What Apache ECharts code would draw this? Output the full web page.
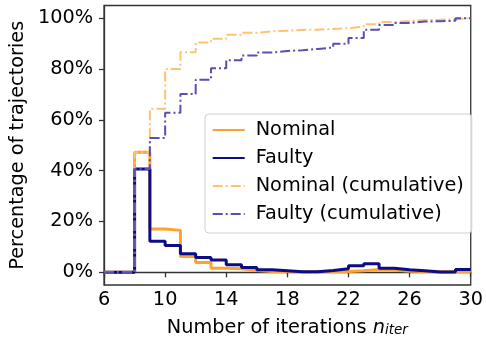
<!DOCTYPE html>
<html>
<head>
<meta charset="utf-8">
<script src="https://cdn.jsdelivr.net/npm/echarts@6/dist/echarts.min.js"></script>
<style>
html,body{margin:0;padding:0;background:#fff;}
#c{width:486px;height:345px;}
</style>
</head>
<body>
<div id="c"></div>
<script>
// Iteration counts (bins start at these values)
var iterations = [6,7,8,9,10,11,12,13,14,15,16,17,18,19,20,21,22,23,24,25,26,27,28,29];
var xEnd = 30;
// Percentage of trajectories per iteration count
var nominal = [0,0,47.2,17.0,16.5,6.2,3.9,1.6,1.4,0.7,0.3,0.3,0.1,0.2,0.3,0.3,0.6,1.1,0.9,0.4,0.3,0.2,0.2,0.3];
var faulty  = [0,0,40.7,12.2,10.5,7.3,5.8,4.8,3.0,1.9,1.0,0.6,0.2,0.2,0.7,1.4,2.6,3.4,1.6,1.0,0.6,0.1,0.1,1.1];
var nominalCum = [0,0,47.2,64.4,80.0,86.6,90.4,91.9,93.5,94.3,94.8,95.1,95.4,95.5,95.8,96.1,96.7,97.6,98.5,98.9,99.2,99.4,99.6,100];
var faultyCum  = [0,0,40.7,52.9,62.8,70.2,75.8,80.3,83.5,85.3,86.5,87.1,87.4,87.9,88.5,89.9,92.2,95.5,97.3,98.1,98.7,98.8,99.0,100];
var xTicks = [6,10,14,18,22,26,30];
var yTicks = [0,20,40,60,80,100];
var seriesNames = ['Nominal','Faulty','Nominal (cumulative)','Faulty (cumulative)'];

function toSteps(vals){
  var d = iterations.map(function(n,i){return [n, vals[i]];});
  d.push([xEnd, vals[vals.length-1]]);
  return d;
}

var FONT = 'DejaVu Sans';
var FS = 19.3;
var chart = echarts.init(document.getElementById('c'), null, {renderer:'canvas'});
chart.setOption({
  animation:false,
  backgroundColor:'#fff',
  grid:{left:103,right:12.5,top:5.5,bottom:60,show:true,borderColor:'#333',borderWidth:1.3,backgroundColor:'transparent'},
  xAxis:{
    type:'value',min:6,max:30,
    name:'{a|Number of iterations }{n|n}{s|iter}',
    nameLocation:'middle',nameGap:30,
    nameTextStyle:{
      rich:{
        a:{fontFamily:FONT,fontSize:FS,color:'#000',verticalAlign:'bottom',lineHeight:22},
        n:{fontFamily:FONT,fontSize:FS,color:'#000',fontStyle:'italic',verticalAlign:'bottom',lineHeight:22},
        s:{fontFamily:FONT,fontSize:13.5,color:'#000',fontStyle:'italic',verticalAlign:'bottom',lineHeight:12}
      }
    },
    axisLine:{show:true,lineStyle:{color:'#333',width:1.3}},
    axisTick:{show:true,inside:false,length:5,customValues:xTicks,lineStyle:{color:'#333',width:1.3}},
    axisLabel:{customValues:xTicks,fontFamily:FONT,fontSize:FS,color:'#000',margin:5},
    splitLine:{show:false}
  },
  yAxis:{
    type:'value',min:-5,max:105,
    name:'Percentage of trajectories',
    nameLocation:'middle',nameGap:67,
    nameTextStyle:{fontFamily:FONT,fontSize:FS,color:'#000'},
    axisLine:{show:true,lineStyle:{color:'#333',width:1.3}},
    axisTick:{show:true,inside:false,length:5,customValues:yTicks,lineStyle:{color:'#333',width:1.3}},
    axisLabel:{customValues:yTicks,fontFamily:FONT,fontSize:FS,color:'#000',margin:11,formatter:function(v){return v+'%';}},
    splitLine:{show:false}
  },
  legend:{
    orient:'vertical',left:205,top:114,
    padding:[6,8,9,6.7],
    itemWidth:32,itemHeight:20,itemGap:8,
    backgroundColor:'rgba(255,255,255,0.85)',
    borderColor:'#d0d0d0',borderWidth:1,borderRadius:4,
    itemStyle:{opacity:0},
    textStyle:{fontFamily:FONT,fontSize:FS,color:'#000',lineHeight:20,padding:[0,0,0,6]},
    data:seriesNames
  },
  series:[
    {name:seriesNames[0],type:'line',step:'end',showSymbol:false,symbol:'none',data:toSteps(nominal),
     lineStyle:{color:'#FFA12E',width:3},itemStyle:{color:'#FFA12E'},z:2},
    {name:seriesNames[1],type:'line',step:'end',showSymbol:false,symbol:'none',data:toSteps(faulty),
     lineStyle:{color:'#0c0c88',width:3},itemStyle:{color:'#0c0c88'},z:3},
    {name:seriesNames[2],type:'line',step:'end',showSymbol:false,symbol:'none',data:toSteps(nominalCum),
     lineStyle:{color:'#FFC272',width:2,type:[10,3,2,3]},itemStyle:{color:'#FFC272'},z:4},
    {name:seriesNames[3],type:'line',step:'end',showSymbol:false,symbol:'none',data:toSteps(faultyCum),
     lineStyle:{color:'#5a4eb3',width:2,type:[10,3,2,3]},itemStyle:{color:'#5a4eb3'},z:5}
  ]
});
</script>
</body>
</html>
